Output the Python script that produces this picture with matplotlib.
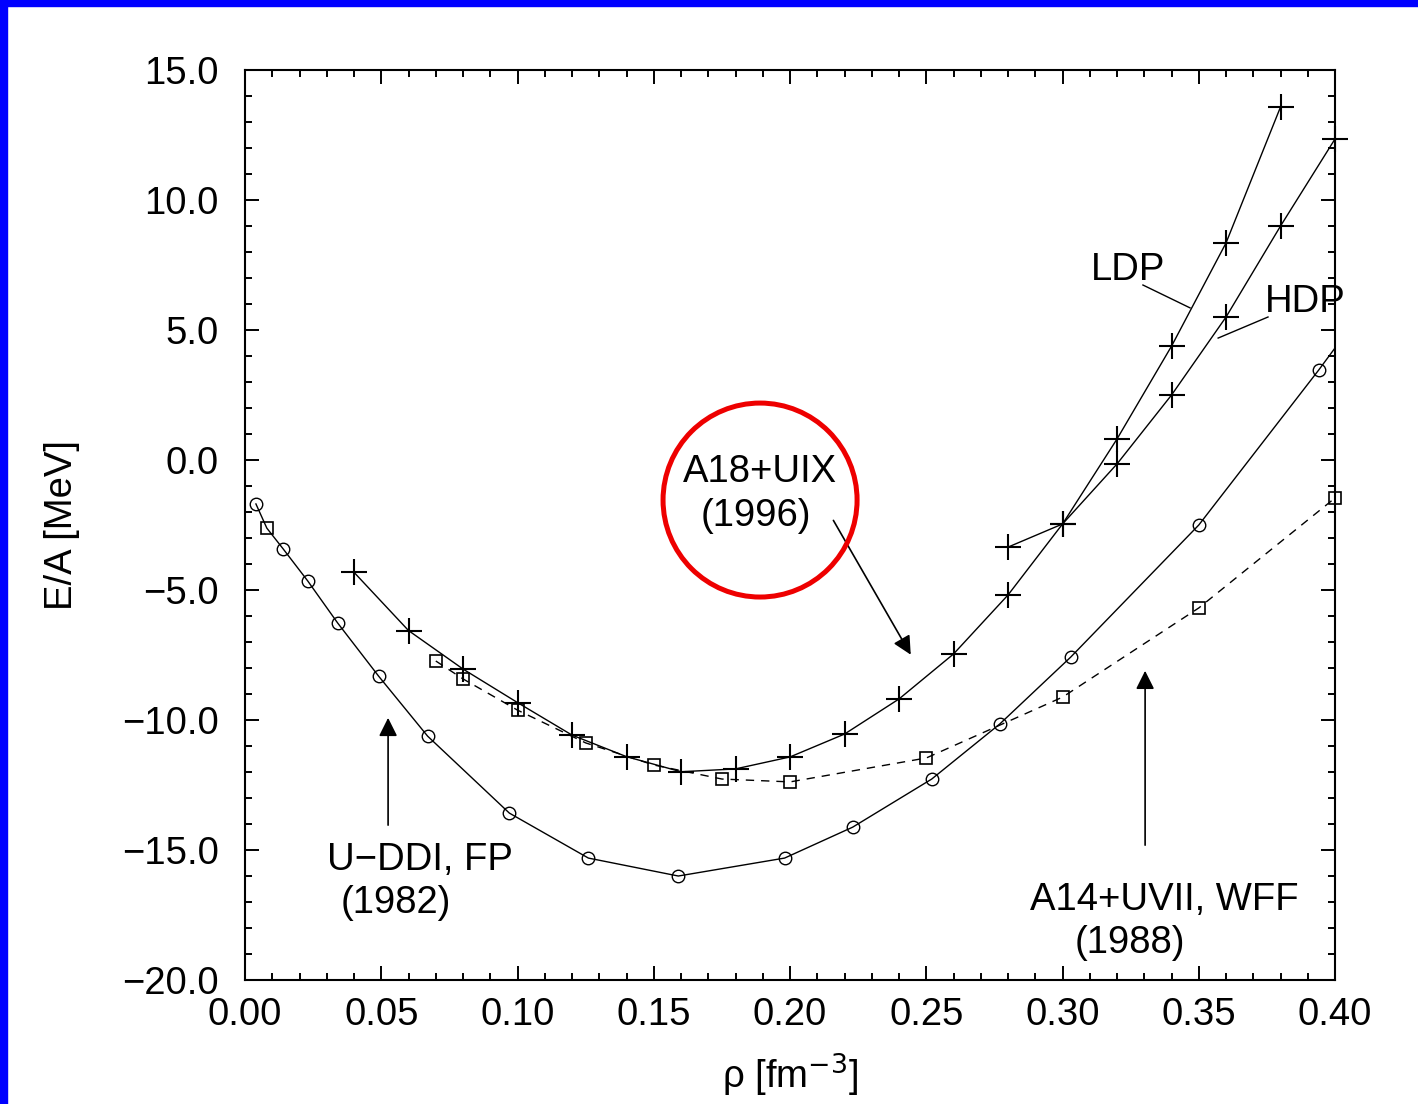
import matplotlib
matplotlib.use("Agg")
import matplotlib.pyplot as plt
from matplotlib.patches import Ellipse, Rectangle
from matplotlib.ticker import MultipleLocator, FuncFormatter

# Energy per nucleon of symmetric nuclear matter, E/A [MeV] vs density rho [fm^-3]

# U-DDI, FP (1982) -- last entry is the curve end at 0.40 (no marker)
rho_fp = [0.004, 0.008, 0.014, 0.023, 0.034, 0.049, 0.067, 0.097, 0.126,
          0.159, 0.198, 0.223, 0.252, 0.277, 0.303, 0.350, 0.394, 0.400]
e_fp = [-1.69, -2.62, -3.42, -4.65, -6.27, -8.31, -10.62, -13.58, -15.31,
        -16.00, -15.31, -14.12, -12.27, -10.15, -7.58, -2.50, 3.46, 4.31]

# A14+UVII, WFF (1988)
rho_wff = [0.07, 0.08, 0.10, 0.125, 0.15, 0.175, 0.20, 0.25, 0.30, 0.35, 0.40]
e_wff = [-7.73, -8.42, -9.62, -10.88, -11.73, -12.27, -12.38, -11.46, -9.12,
         -5.69, -1.46]

# A18+UIX (1996), low density phase
rho_ldp = [0.04, 0.06, 0.08, 0.10, 0.12, 0.14, 0.16, 0.18, 0.20, 0.22, 0.24,
           0.26, 0.28, 0.30, 0.32, 0.34, 0.36, 0.38]
e_ldp = [-4.32, -6.56, -8.04, -9.33, -10.58, -11.41, -11.99, -11.88, -11.42,
         -10.54, -9.19, -7.46, -5.19, -2.46, 0.81, 4.38, 8.35, 13.58]

# A18+UIX (1996), high density phase
rho_hdp = [0.28, 0.30, 0.32, 0.34, 0.36, 0.38, 0.40]
e_hdp = [-3.35, -2.46, -0.15, 2.50, 5.50, 9.00, 12.35]

FS = 27.5
plt.rcParams["font.family"] = ["Liberation Sans", "DejaVu Sans"]

fig = plt.figure(figsize=(14.18, 11.04), dpi=100)
ax = fig.add_axes([0.1728, 0.1123, 0.7687, 0.8243])

lw = 1.0
ax.plot(rho_fp, e_fp, color="k", lw=lw, marker="o", ms=9, mfc="none", mew=1.0,
        markevery=[i for i in range(len(rho_fp) - 1) if i != 1])
ax.plot([rho_fp[1]], [e_fp[1]], ls="none", marker="s", ms=8.5, mfc="none",
        mec="k", mew=1.2)
ax.plot(rho_wff, e_wff, color="k", lw=lw, ls=(0, (6, 5)), marker="s", ms=8,
        mfc="none", mew=1.2, clip_on=False)
ax.plot(rho_ldp, e_ldp, color="k", lw=lw, marker="+", ms=19, mew=1.5)
ax.plot(rho_hdp, e_hdp, color="k", lw=lw, marker="+", ms=19, mew=1.5,
        clip_on=False)

ax.set_xlim(0.0, 0.40)
ax.set_ylim(-20.0, 15.0)
ax.xaxis.set_major_locator(MultipleLocator(0.05))
ax.xaxis.set_minor_locator(MultipleLocator(0.01))
ax.yaxis.set_major_locator(MultipleLocator(5.0))
ax.yaxis.set_minor_locator(MultipleLocator(1.0))
ax.xaxis.set_major_formatter(FuncFormatter(lambda v, p: f"{v:.2f}"))
ax.yaxis.set_major_formatter(
    FuncFormatter(lambda v, p: f"{v:.1f}".replace("-", "\u2212")))
ax.tick_params(which="both", direction="in", top=True, right=True, width=1.4)
ax.tick_params(which="major", length=10)
ax.tick_params(which="minor", length=5)
ax.tick_params(axis="x", which="major", labelsize=FS, pad=12)
ax.tick_params(axis="y", which="major", labelsize=FS, pad=19)
for s in ax.spines.values():
    s.set_linewidth(1.5)

ax.set_xlabel(r"ρ [fm$^{-3}$]", fontsize=FS, labelpad=14)
ax.set_ylabel("E/A [MeV]", fontsize=FS, labelpad=30)

# labels and arrows
arrow = dict(arrowstyle="-|>", color="k", lw=1.2, mutation_scale=28)
ax.annotate("", xy=(0.2448, -7.58), xytext=(0.2154, -2.23), arrowprops=arrow)
ax.annotate("", xy=(0.0525, -9.81), xytext=(0.0525, -14.15), arrowprops=arrow)
ax.annotate("", xy=(0.3303, -8.0), xytext=(0.3303, -14.92), arrowprops=arrow)

ax.plot([0.3295, 0.3468], [6.73, 5.85], color="k", lw=1.0)
ax.plot([0.3754, 0.3571], [5.50, 4.69], color="k", lw=1.0)

txt = dict(fontsize=FS, ha="center", va="center", clip_on=False)
ax.text(0.3240, 7.31, "LDP", **txt)
ax.text(0.3890, 6.08, "HDP", **txt)
ax.text(0.1890, -0.46, "A18+UIX", **txt)
ax.text(0.1875, -2.15, "(1996)", **txt)
ax.text(0.0642, -15.38, "U−DDI, FP", **txt)
ax.text(0.0554, -17.04, "(1982)", **txt)
ax.text(0.3372, -16.92, "A14+UVII, WFF", **txt)
ax.text(0.3248, -18.58, "(1988)", **txt)

ax.add_patch(Ellipse((0.189, -1.54), 0.0712, 7.46, fill=False,
                     edgecolor="#ee0000", lw=3.6, clip_on=False, zorder=5))

# blue frame on the slide edges
fig.patches.append(Rectangle((0, 0), 7 / 1418, 1, transform=fig.transFigure,
                             color="#0000ff", zorder=10))
fig.patches.append(Rectangle((0, 1 - 6 / 1104), 1, 6 / 1104,
                             transform=fig.transFigure, color="#0000ff", zorder=10))

fig.savefig("out.png", dpi=100)
